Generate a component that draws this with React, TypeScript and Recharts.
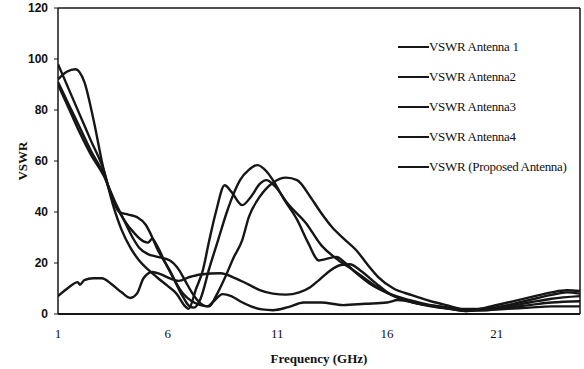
import React from 'react';
import { LineChart, Line, XAxis, YAxis, Legend, ReferenceLine, Label } from 'recharts';

// Frequency (GHz) / VSWR pairs for each antenna
const a1Freq = [1, 1.4, 1.8, 2.2, 2.6, 3.1, 3.4, 3.8, 4.2, 4.6, 5.0, 5.3, 5.5, 6.1, 6.7, 7.0, 7.2, 7.5, 7.9, 8.3, 8.7, 9.0, 9.3, 9.7, 10.1, 10.5, 10.8, 11.3, 11.9, 12.4, 12.9, 13.2, 13.7, 14.1, 14.6, 15.2, 16.1, 17, 18, 18.7, 19.6, 20.5, 21.5, 22.5, 23.5, 24.2, 24.8];
const a1Vswr = [92, 95, 96, 91, 77, 56, 47, 40, 39, 38, 35, 30, 26, 17, 6.7, 3, 2.5, 6, 18, 29, 40, 47, 52.5, 56.5, 58.4, 56, 52.5, 45, 37, 28, 21, 21.5, 22.4, 20, 16, 12, 8, 5.5, 3.5, 2.7, 1.5, 2, 3.5, 5.5, 7.5, 8.5, 8];

const a2Freq = [1, 1.5, 2, 2.5, 3.1, 3.5, 3.9, 4.3, 4.7, 5.1, 5.5, 6.0, 6.4, 6.8, 6.95, 7.3, 7.6, 7.9, 8.2, 8.6, 8.9, 9.4, 9.8, 10.2, 10.5, 10.9, 11.5, 12.3, 13.0, 13.8, 14.5, 15.3, 16.4, 17.5, 18.7, 19.6, 20.5, 21.5, 22.5, 23.5, 24.8];
const a2Vswr = [98, 88, 78, 68, 56, 43, 33, 26, 21, 17.5, 14.5, 11, 8, 3, 2, 10, 17, 29, 40, 50.5, 48, 42.7, 46, 51, 52.5, 50, 43, 35.7, 27, 21, 17, 12, 6.7, 4, 2.5, 1.2, 1.5, 2.5, 3.5, 4.5, 5];

const a3Freq = [1, 1.5, 2, 2.5, 3.1, 3.5, 4.0, 4.5, 4.9, 5.1, 5.3, 5.5, 5.9, 6.3, 6.7, 7.1, 7.5, 7.9, 8.2, 8.6, 9.0, 9.4, 9.7, 10.2, 10.8, 11.4, 11.9, 12.5, 13.0, 13.5, 14.1, 14.6, 15.1, 15.6, 16.3, 17.1, 18.0, 18.7, 19.5, 20.5, 21.5, 22.5, 23.5, 24.8];
const a3Vswr = [91, 82, 73, 64, 54.5, 45, 37, 31.5, 28.5, 28, 29.5, 27, 20, 13.5, 8, 5, 3.5, 3, 7, 14, 22, 29, 38, 46, 51.5, 53.5, 52.5, 46, 39.6, 34, 29, 25, 19.5, 14.5, 10, 7.5, 5, 3.5, 2, 2, 3, 4.5, 6, 7];

const a4Freq = [1, 1.5, 2, 2.5, 3.1, 3.6, 4.0, 4.4, 4.7, 5.1, 5.5, 6.1, 6.5, 6.8, 7.1, 7.4, 7.8, 8.1, 8.5, 8.9, 9.3, 9.8, 10.3, 10.8, 11.5, 12.2, 13, 14, 15, 16, 16.5, 17.5, 18.5, 19.5, 20.5, 21.5, 22.5, 23.5, 24.8];
const a4Vswr = [90, 80.5, 71, 62.5, 54, 44, 37, 30, 26, 23.5, 22.5, 21, 17.5, 13, 8.5, 5, 3, 5, 7.8, 7, 5, 3, 1.8, 1.5, 2.7, 4.5, 4.5, 3.5, 4, 4.5, 5.5, 4, 2.5, 1.5, 1.5, 2, 2.5, 3, 3];

const propFreq = [1, 1.5, 1.9, 2.0, 2.2, 2.6, 3.0, 3.4, 3.9, 4.3, 4.6, 4.9, 5.3, 5.7, 6.1, 6.5, 7.0, 7.5, 8.4, 9.1, 9.7, 10.2, 10.8, 11.4, 12.0, 12.5, 12.9, 13.4, 13.9, 14.3, 14.8, 15.5, 16.1, 17, 18, 19, 19.6, 20.5, 21.5, 22.5, 23.5, 24.2, 24.8];
const propVswr = [7, 10.5, 12.5, 11.5, 13.3, 14, 14, 12, 8.5, 6.3, 8, 14, 16.5, 15.5, 14, 13, 14.5, 15.5, 16, 14, 11.5, 9.4, 8, 7.6, 8.5, 10.5, 13.3, 17, 19.2, 19.5, 17, 12, 8, 5, 3, 1.8, 1.2, 2.5, 4.5, 6.5, 8.5, 9.3, 9];

const seriesNames = ['VSWR Antenna 1', 'VSWR Antenna2', 'VSWR Antenna3', 'VSWR Antenna4', 'VSWR (Proposed Antenna)'];
const xTicks = [1, 6, 11, 16, 21];
const yTicks = [0, 20, 40, 60, 80, 100, 120];

const zip = (f: number[], v: number[]) => f.map((x, i) => ({ f: x, v: v[i] }));
const series = [
  zip(a1Freq, a1Vswr),
  zip(a2Freq, a2Vswr),
  zip(a3Freq, a3Vswr),
  zip(a4Freq, a4Vswr),
  zip(propFreq, propVswr),
];

const INK = '#161616';

const LegendContent = (props: any) => {
  const payload = [...(props.payload || [])].sort(
    (a: any, b: any) => seriesNames.indexOf(a.value) - seriesNames.indexOf(b.value)
  );
  return (
    <div style={{ fontFamily: '"Liberation Serif", serif', fontSize: 13, color: '#111' }}>
      {payload.map((p: any) => (
        <div key={p.value} style={{ height: 30, display: 'flex', alignItems: 'center' }}>
          <span style={{ display: 'inline-block', width: 31, height: 2.5, background: INK }} />
          <span style={{ letterSpacing: -0.3 }}>{p.value}</span>
        </div>
      ))}
    </div>
  );
};

const YLabel = (props: any) => {
  const vb = props.viewBox || { x: 0, y: 0, width: 0, height: 0 };
  const cx = vb.x + 22;
  const cy = vb.y + vb.height / 2;
  return (
    <text x={cx} y={cy} transform={`rotate(-90 ${cx} ${cy})`} textAnchor="middle" dominantBaseline="central"
      style={{ fontFamily: '"Liberation Serif", serif', fontSize: 13, fontWeight: 700, fill: '#111' }}>
      VSWR
    </text>
  );
};

export default function App() {
  return (
    <div style={{ position: 'absolute', left: 0, top: 0, background: '#fff' }}>
      <LineChart width={584} height={369} margin={{ top: 8, right: 4, left: 0, bottom: 0 }}>
        <XAxis
          dataKey="f"
          type="number"
          domain={[1, 24.8]}
          ticks={xTicks}
          allowDataOverflow
          height={55}
          tickLine={false}
          tickSize={0}
          tickMargin={15}
          axisLine={{ stroke: INK, strokeWidth: 2 }}
          tick={{ fontFamily: '"Liberation Serif", serif', fontSize: 13, fill: '#111' }}
        >
          <Label value="Frequency (GHz)" position="insideBottom" offset={6}
            style={{ fontFamily: '"Liberation Serif", serif', fontSize: 13, fontWeight: 700, fill: '#111' }} />
        </XAxis>
        <YAxis
          type="number"
          domain={[0, 120]}
          ticks={yTicks}
          width={58}
          tickSize={4}
          tickMargin={6}
          axisLine={{ stroke: INK, strokeWidth: 1.5 }}
          tickLine={{ stroke: INK }}
          tick={{ fontFamily: '"Liberation Sans", sans-serif', fontSize: 12, fontWeight: 700, fill: '#111' }}
          label={<YLabel />}
        />
        <ReferenceLine y={120} stroke={INK} strokeWidth={1.5} />
        <ReferenceLine x={24.8} stroke={INK} strokeWidth={1.5} />
        <Legend
          layout="horizontal"
          align="center"
          verticalAlign="middle"
          itemSorter={null as any}
          content={<LegendContent />}
          wrapperStyle={{ left: 398, top: 32, width: 'auto', height: 'auto' }}
        />
        {series.map((d, i) => (
          <Line
            key={seriesNames[i]}
            data={d}
            dataKey="v"
            name={seriesNames[i]}
            type="monotone"
            stroke={INK}
            strokeWidth={2.4}
            dot={false}
            activeDot={false}
            isAnimationActive={false}
          />
        ))}
      </LineChart>
    </div>
  );
}
